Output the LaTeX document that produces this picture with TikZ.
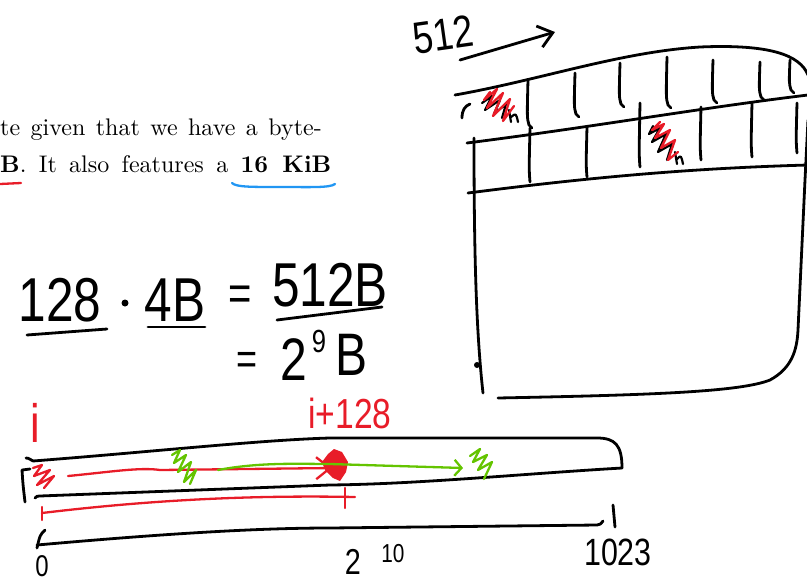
\documentclass[tikz,border=0pt]{standalone}
\usepackage{fontspec}
\newfontfamily\handfont[FakeStretch=0.8]{Liberation Sans}
\usetikzlibrary{arrows.meta}
\definecolor{inkred}{HTML}{E81C28}
\definecolor{inkgreen}{HTML}{64C400}
\definecolor{inkblue}{HTML}{2196F3}
\begin{document}
\begin{tikzpicture}[x=1pt,y=-1pt,line cap=round,line join=round,
  pen/.style={line width=2.8pt},
  redpen/.style={line width=2.3pt,inkred},
  greenpen/.style={line width=2.3pt,inkgreen},
  hand/.style={inner sep=0pt,font=\handfont\fontsize{#1}{#1}\selectfont},
  hand/.default=60,
  printed/.style={inner sep=0pt,anchor=base west,font=\fontsize{10}{12}\selectfont}]
  \useasboundingbox (0,0) rectangle (807,582);
  \clip (0,0) rectangle (807,582);
  % printed text
  \node[printed] (lineone) at (0,135) {\scalebox{2.4}{\makebox[134pt][s]{te given that we have a byte-}}};
  \node[printed] (linetwo) at (0,172) {\scalebox{2.4}{\makebox[138pt][s]{\textbf{B}. It also features a \textbf{16 KiB}}}};
  \draw[redpen] (0,184) -- (21,183);
  \draw[line width=2.3pt,inkblue] (232,183) .. controls (236,187) and (250,187) .. (280,187) .. controls (310,187) and (330,188) .. (335,184);
  % 128 * 4B = 512B = 2^9B
  \node[hand=62] (nrows) at (60,300) {128};
  \fill (125,303) circle (3.5);
  \node[hand=62] (nword) at (175,300) {4B};
  \node[hand=50] (eqone) at (240,298) {=};
  \node[hand=62] (nline) at (330,285) {512B};
  \draw[pen] (27,335) -- (107,329);
  \draw[pen] (148,327) -- (205,327);
  \draw[pen] (277,320) -- (382,307);
  \node[hand=45] (eqtwo) at (247,363) {=};
  \node[hand=60] (ptwo) at (294,360) {2};
  \node[hand=32] (pnine) at (319,341) {9};
  \node[hand=60] (pbee) at (352,355) {B};
  % cache lines
  \node[hand=45,rotate=8] (linesize) at (443,35) {512};
  \draw[pen,-{Straight Barb[length=14pt,width=22pt]}] (460,60) -- (555,32);
  \draw[pen] (455,95) .. controls (540,80) and (620,52) .. (700,47) .. controls (770,44) and (800,55) .. (808,75);
  \draw[pen] (467,143) .. controls (600,126) and (700,108) .. (808,95);
  \draw[pen] (468,193) .. controls (600,176) and (700,168) .. (808,165);
  \draw[pen] (470,104) .. controls (465,106) and (462,110) .. (462,118);
  \draw[pen] (474,138) .. controls (474,250) and (476,330) .. (483,393);
  \fill (477,365) circle (3);
  \draw[pen] (498,398) .. controls (650,395) and (740,392) .. (770,380) .. controls (792,368) and (797,350) .. (798,330) -- (805,180) -- (808,120);
  \foreach \x/\a/\b in {528/80/128,575/73/117,620/63/107,667/57/108,713/60/103,760/62/100,790/60/93}
    \draw[pen] (\x,\a) .. controls (\x-1,\b-10) .. (\x+1,\b-3) -- (\x+4,\b);
  \foreach \x/\a/\b in {530/128/182,587/127/177,640/103/167,701/107/160,752/103/157,797/103/153}
    \draw[pen] (\x,\a) .. controls (\x-1,\b-12) .. (\x,\b);
  \draw[line width=2.2pt] (482,103) -- (492,96) -- (485,110) -- (500,100) -- (494,114) -- (506,104) -- (502,118);
  \draw[line width=2.2pt] (509,110) -- (511,122) (511,117) .. controls (516,113) .. (518,122);
  \draw[redpen] (490,92) -- (484,100) -- (497,89) -- (487,108) -- (503,93) -- (493,116) -- (510,99) -- (503,121) -- (514,106);
  \draw[line width=2.2pt] (653,126) -- (649,134) -- (660,128) -- (652,142) -- (666,134) -- (658,152) -- (672,144) -- (667,160);
  \draw[line width=2.2pt] (675,152) -- (677,164) (677,159) .. controls (681,155) .. (683,164);
  \draw[redpen] (660,122) -- (652,130) -- (664,124) -- (655,138) -- (670,130) -- (661,148) -- (675,140) -- (668,160) -- (678,152);
  % array of ints
  \node[hand=54,text=inkred] (idxi) at (35,423) {i};
  \node[hand=42,text=inkred] (idxnext) at (350,413) {i+128};
  \draw[pen] (33,461) .. controls (28,458) .. (26,458);
  \draw[pen] (33,461) .. controls (150,452) and (260,440) .. (330,438) -- (597,438) .. controls (615,438) and (622,445) .. (622,468);
  \draw[pen] (622,468) .. controls (520,474) and (420,484) .. (330,485) -- (40,496) .. controls (37,496) .. (35,498);
  \draw[pen] (30,469) -- (22,470) .. controls (23,485) .. (25,502);
  \draw[redpen] (33,468) -- (42,465) -- (34,476) -- (50,470) -- (37,485) -- (54,476) -- (44,488);
  \fill[inkred] (334,449) -- (342,452) -- (348,462) -- (346,472) -- (340,481) -- (333,478) -- (325,470) -- (322,462) -- (328,454) -- cycle;
  \draw[redpen,-{Straight Barb[length=14pt,width=22pt]}] (68,476) .. controls (110,472) and (140,467) .. (160,470) -- (332,468);
  \draw[greenpen] (172,455) -- (180,450) -- (174,463) -- (186,455) -- (178,472) -- (191,462) -- (184,482) -- (196,470) -- (190,484);
  \draw[greenpen] (470,456) -- (480,449) -- (473,462) -- (487,455) -- (478,470) -- (492,462) -- (484,479);
  \draw[greenpen,-{Straight Barb[length=7pt,width=16pt]}] (218,470) .. controls (260,462) and (300,464) .. (330,464) -- (463,468);
  \draw[redpen] (42,507) -- (42,520);
  \draw[redpen] (42,513) .. controls (150,500) and (250,495) .. (355,497);
  \draw[redpen] (345,488) -- (345,508);
  \draw[pen] (45,530) .. controls (40,535) .. (37,548);
  \draw[pen] (37,545) .. controls (150,535) and (250,528) .. (330,528) -- (597,525) .. controls (601,524) .. (603,521);
  \draw[pen] (613,505) -- (615,527);
  \node[hand=30] (first) at (42,566) {0};
  \node[hand=36] (mid) at (353,562) {2};
  \node[hand=26] (midexp) at (393,554) {10};
  \node[hand=38] (last) at (618,552) {1023};
\end{tikzpicture}
\end{document}
